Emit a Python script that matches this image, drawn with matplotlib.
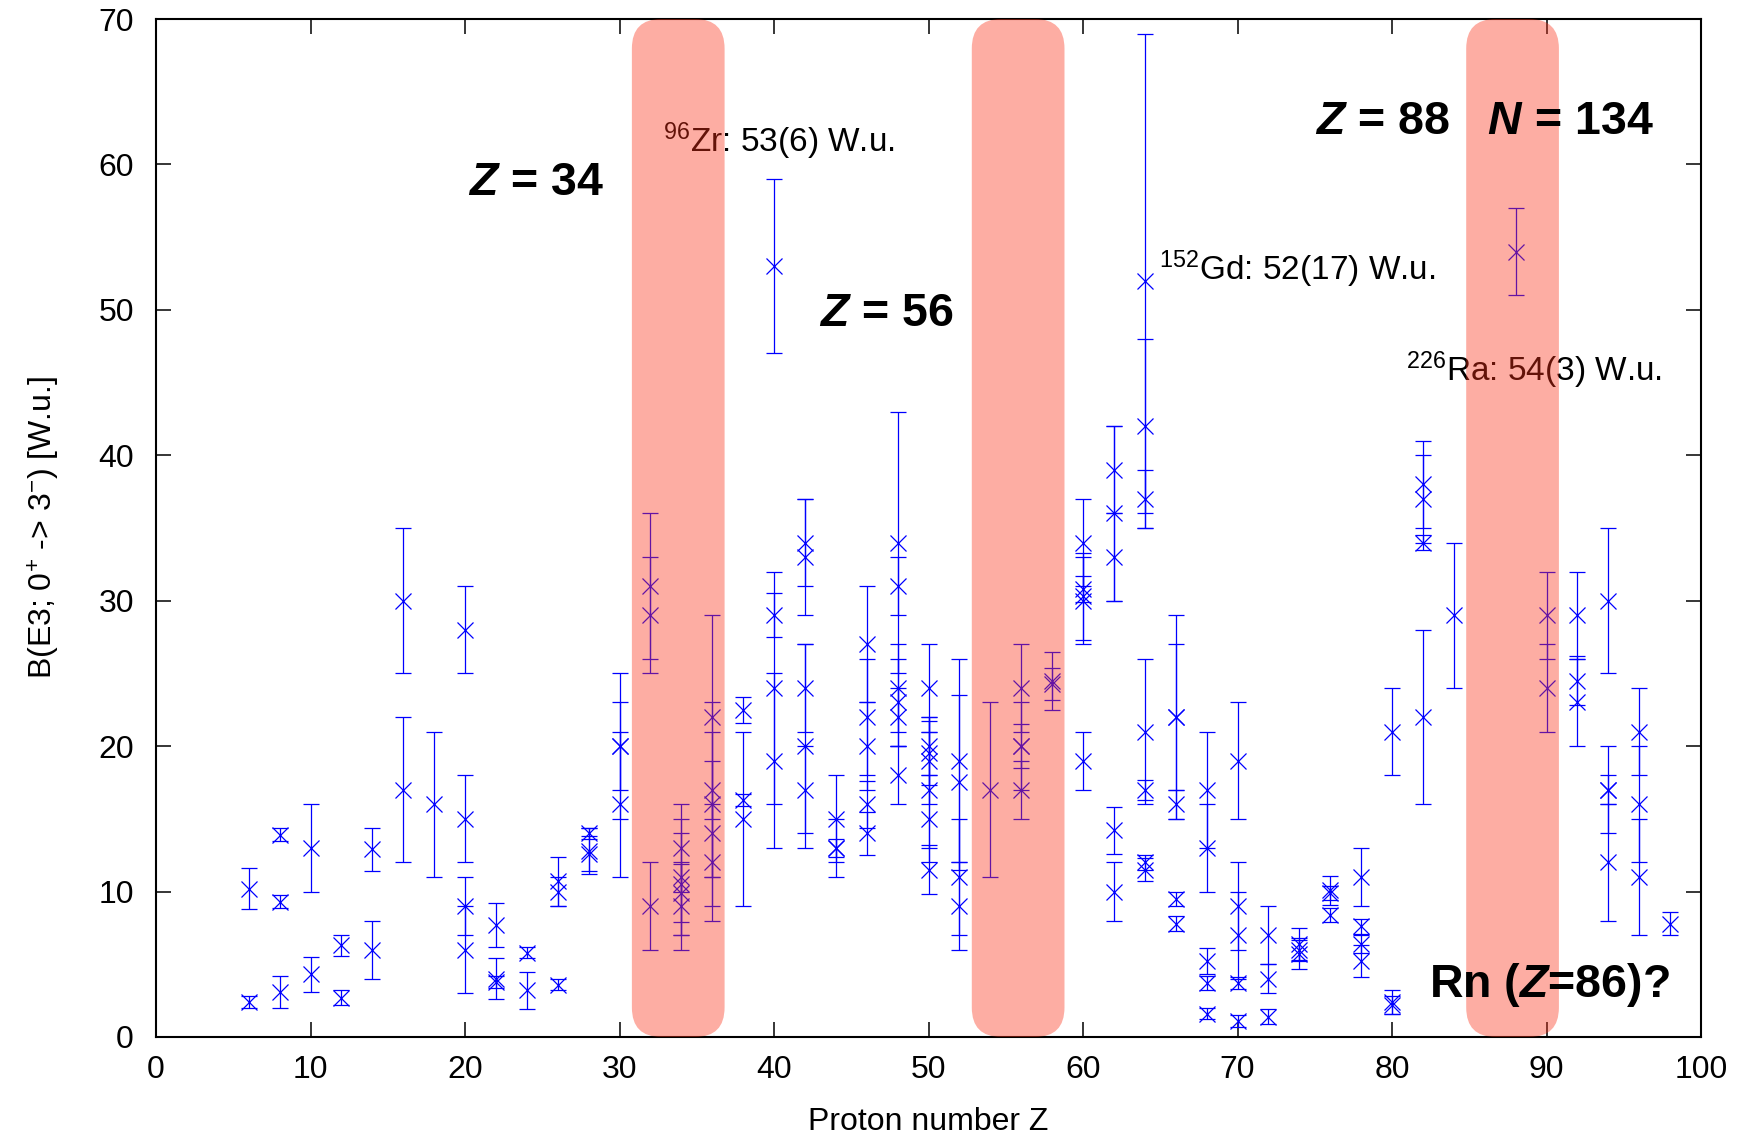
import matplotlib
matplotlib.use('Agg')
import matplotlib.pyplot as plt
from matplotlib.patches import FancyBboxPatch

# Fonts: Helvetica-like look
plt.rcParams['font.family'] = ['Liberation Sans', 'DejaVu Sans']
plt.rcParams['mathtext.fontset'] = 'custom'
plt.rcParams['mathtext.rm'] = 'Liberation Sans'
plt.rcParams['mathtext.it'] = 'Liberation Sans:italic'
plt.rcParams['mathtext.bf'] = 'Liberation Sans:bold'
plt.rcParams['mathtext.bfit'] = 'Liberation Sans:italic:bold'

# B(E3; 0+ -> 3-) values [W.u.] with symmetric errors, per proton number Z
proton_z = [6, 6,
            8, 8, 8,
            10, 10,
            12, 12,
            14, 14,
            16, 16,
            18,
            20, 20, 20, 20,
            22, 22, 22,
            24, 24,
            26, 26, 26,
            28, 28, 28,
            30, 30, 30,
            32, 32, 32,
            34, 34, 34, 34, 34,
            36, 36, 36, 36, 36,
            38, 38, 38,
            40, 40, 40, 40,
            42, 42, 42, 42, 42,
            44, 44, 44,
            46, 46, 46, 46, 46,
            48, 48, 48, 48, 48, 48,
            50, 50, 50, 50, 50, 50, 50,
            52, 52, 52, 52,
            54,
            56, 56, 56, 56,
            58, 58,
            60, 60, 60, 60, 60,
            62, 62, 62, 62, 62,
            64, 64, 64, 64, 64, 64, 64,
            66, 66, 66, 66, 66,
            68, 68, 68, 68, 68,
            70, 70, 70, 70, 70,
            72, 72, 72,
            74, 74, 74,
            76, 76, 76,
            78, 78, 78, 78,
            80, 80, 80,
            82, 82, 82, 82,
            84,
            88,
            90, 90,
            92, 92, 92,
            94, 94, 94, 94,
            96, 96, 96,
            98]

b_e3 = [10.2, 2.4,
        13.9, 9.3, 3.1,
        13.0, 4.3,
        6.3, 2.7,
        12.9, 6.0,
        30.0, 17.0,
        16.0,
        28.0, 15.0, 9.0, 6.0,
        7.7, 4.0, 3.8,
        5.8, 3.2,
        10.7, 10.0, 3.6,
        14.0, 12.6, 12.8,
        20.0, 20.0, 16.0,
        31.0, 29.0, 9.0,
        13.0, 11.0, 10.5, 9.9, 9.0,
        22.0, 17.0, 16.0, 14.0, 12.0,
        22.5, 16.3, 15.0,
        53.0, 29.0, 24.0, 19.0,
        34.0, 33.0, 24.0, 20.0, 17.0,
        15.0, 13.0, 13.0,
        27.0, 22.0, 20.0, 16.0, 14.0,
        34.0, 31.0, 24.0, 23.0, 22.0, 18.0,
        24.0, 20.0, 19.5, 19.0, 17.0, 15.0, 11.5,
        19.0, 17.5, 11.0, 9.0,
        17.0,
        24.0, 20.0, 20.0, 17.0,
        24.5, 24.3,
        34.0, 30.8, 30.3, 30.0, 19.0,
        39.0, 36.0, 33.0, 14.2, 10.0,
        52.0, 42.0, 37.0, 21.0, 17.0, 12.0, 11.5,
        22.0, 22.0, 16.0, 9.5, 7.8,
        17.0, 13.0, 5.2, 3.7, 1.6,
        19.0, 9.0, 7.0, 3.7, 1.1,
        7.0, 4.0, 1.4,
        6.4, 6.0, 5.7,
        10.1, 9.9, 8.4,
        11.0, 7.6, 6.4, 5.2,
        21.0, 2.4, 2.2,
        38.0, 37.0, 34.0, 22.0,
        29.0,
        54.0,
        29.0, 24.0,
        29.0, 24.5, 23.0,
        30.0, 17.0, 17.0, 12.0,
        21.0, 16.0, 11.0,
        7.8]

b_err = [1.4, 0.4,
         0.45, 0.45, 1.1,
         3.0, 1.2,
         0.7, 0.5,
         1.5, 2.0,
         5.0, 5.0,
         5.0,
         3.0, 3.0, 2.0, 3.0,
         1.5, 1.4, 0.4,
         0.4, 1.3,
         1.7, 1.0, 0.4,
         0.4, 1.2, 1.6,
         3.0, 5.0, 5.0,
         5.0, 4.0, 3.0,
         3.0, 4.0, 3.5, 2.0, 3.0,
         7.0, 6.0, 5.0, 5.0, 4.0,
         0.9, 0.4, 6.0,
         6.0, 1.5, 8.0, 6.0,
         3.0, 4.0, 3.0, 7.0, 3.0,
         3.0, 0.6, 2.0,
         4.0, 4.0, 3.0, 1.6, 1.5,
         9.0, 2.0, 3.0, 3.0, 2.0, 2.0,
         3.0, 2.0, 2.2, 3.0, 4.0, 3.0, 1.7,
         7.0, 6.0, 4.0, 3.0,
         6.0,
         3.0, 3.0, 1.5, 2.0,
         2.0, 1.1,
         3.0, 0.9, 3.0, 3.0, 2.0,
         3.0, 6.0, 3.0, 1.6, 2.0,
         17.0, 6.0, 2.0, 5.0, 0.7, 0.5, 0.8,
         7.0, 5.0, 1.0, 0.5, 0.5,
         4.0, 3.0, 0.9, 0.5, 0.4,
         4.0, 3.0, 3.0, 0.4, 0.4,
         2.0, 1.0, 0.5,
         1.1, 0.8, 1.0,
         1.0, 0.5, 0.5,
         2.0, 0.5, 0.6, 1.1,
         3.0, 0.8, 0.6,
         3.0, 3.0, 0.5, 6.0,
         5.0,
         3.0,
         3.0, 3.0,
         3.0, 1.7, 3.0,
         5.0, 3.0, 1.0, 4.0,
         3.0, 4.0, 4.0,
         0.8]

# Highlighted Z ranges (magic / octupole regions)
band_ranges = [(30.8, 36.8), (52.8, 58.8), (84.8, 90.8)]

fig = plt.figure(figsize=(17.47, 11.40), dpi=100)
ax = fig.add_axes([0.0893, 0.0904, 0.8844, 0.8929])

ax.errorbar(proton_z, b_e3, yerr=b_err, fmt='x', color='#0000ff',
            ms=11, mew=0.9, elinewidth=0.9, capsize=5.5, capthick=0.9, zorder=2)

# Salmon overlay bands, drawn on top of the data
for lo, hi in band_ranges:
    band = FancyBboxPatch((lo, 0), hi - lo, 70,
                          boxstyle='round,pad=0,rounding_size=1.9',
                          mutation_aspect=1.066,
                          facecolor=(250 / 255, 50 / 255, 25 / 255), alpha=0.4,
                          edgecolor='none', zorder=4)
    ax.add_patch(band)

# Nuclide annotations (under the bands)
ax.text(32.8, 61.6, r'$^{96}$Zr: 53(6) W.u.', fontsize=24, ha='left', va='center', zorder=3)
ax.text(64.9, 52.8, r'$^{152}$Gd: 52(17) W.u.', fontsize=24, ha='left', va='center', zorder=3)
ax.text(80.9, 45.85, r'$^{226}$Ra: 54(3) W.u.', fontsize=24, ha='left', va='center', zorder=3)

# Bold labels (over the bands)
ax.text(20.2, 58.75, r'$\mathbfit{Z}$ = 34', fontsize=33.5, fontweight='bold',
        ha='left', va='center', zorder=5)
ax.text(42.9, 49.7, r'$\mathbfit{Z}$ = 56', fontsize=33.5, fontweight='bold',
        ha='left', va='center', zorder=5)
ax.text(75.0, 62.95, r'$\mathbfit{Z}$ = 88   $\mathbfit{N}$ = 134', fontsize=33.5,
        fontweight='bold', ha='left', va='center', zorder=5)
ax.text(82.4, 3.6, r'Rn ($\mathbfit{Z}$=86)?', fontsize=33.5, fontweight='bold',
        ha='left', va='center', zorder=5)

ax.set_xlim(0, 100)
ax.set_ylim(0, 70)
ax.set_xticks(range(0, 101, 10))
ax.set_yticks(range(0, 71, 10))
ax.tick_params(direction='in', length=11, width=1.1, labelsize=23,
               top=True, right=True)
ax.tick_params(axis='x', pad=13)
ax.tick_params(axis='y', pad=16)
for sp in ax.spines.values():
    sp.set_linewidth(1.5)

ax.set_xlabel('Proton number Z', fontsize=23, labelpad=16)
ax.set_ylabel(r'B(E3; 0$^{+}$ -> 3$^{-}$) [W.u.]', fontsize=23, labelpad=26)

fig.savefig('out.png', dpi=100)
